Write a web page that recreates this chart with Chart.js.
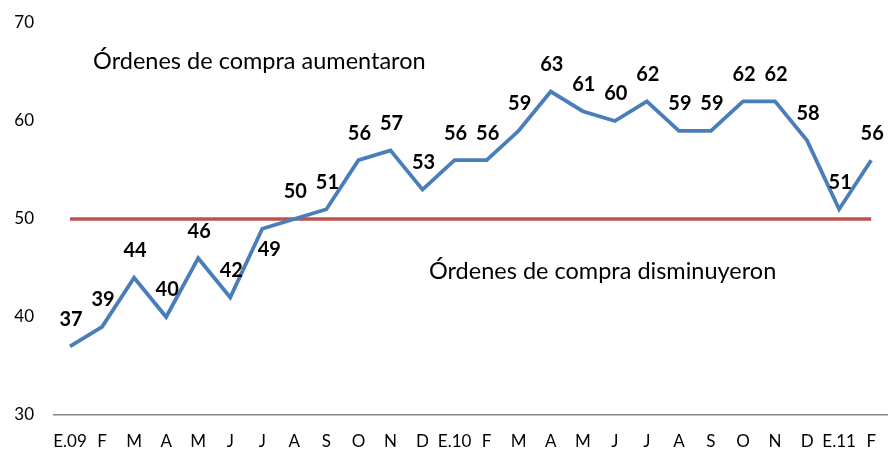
<!DOCTYPE html>
<html>
<head>
<meta charset="utf-8">
<script src="https://cdn.jsdelivr.net/npm/chart.js@4.4.0/dist/chart.umd.min.js"></script>
<style>
html,body{margin:0;padding:0;background:#fff;}
#wrap{width:892px;height:455px;}
</style>
</head>
<body>
<div id="wrap"><canvas id="c" width="892" height="455"></canvas></div>
<script>
const categories = ["E.09","F","M","A","M","J","J","A","S","O","N","D","E.10","F","M","A","M","J","J","A","S","O","N","D","E.11","F"];
const ordenes = [37,39,44,40,46,42,49,50,51,56,57,53,56,56,59,63,61,60,62,59,59,62,62,58,51,56];
const umbral = [50,50,50,50,50,50,50,50,50,50,50,50,50,50,50,50,50,50,50,50,50,50,50,50,50,50];
const yTicks = [30,40,50,60,70];
const notes = [
  {text:"Órdenes de compra aumentaron", x:0.72, y:66.1},
  {text:"Órdenes de compra disminuyeron", x:11.2, y:44.6}
];
const FONT = "Lato, 'Open Sans', sans-serif";

const labelPlugin = {
  id:'labels',
  afterDatasetsDraw(chart){
    const ctx = chart.ctx;
    const meta = chart.getDatasetMeta(1);
    ctx.save();
    ctx.fillStyle = '#000';
    ctx.font = "bold 20px " + FONT;
    ctx.textAlign = 'center';
    ctx.textBaseline = 'middle';
    meta.data.forEach((pt, i) => {
      const v = ordenes[i];
      let dx = 1, dy = -27;
      if (i === 6) { dx = 7; dy = 21; }
      ctx.fillText(String(v), pt.x + dx, pt.y + dy);
    });
    const xs = chart.scales.x, ys = chart.scales.y;
    ctx.font = "23.5px " + FONT;
    ctx.textAlign = 'left';
    notes.forEach(n => {
      ctx.fillText(n.text, xs.getPixelForValue(n.x), ys.getPixelForValue(n.y));
    });
    ctx.restore();
  }
};

new Chart(document.getElementById('c'), {
  type:'line',
  data:{
    labels:categories,
    datasets:[
      {data:umbral, borderColor:'#C0504D', borderWidth:3.5, pointRadius:0, tension:0, order:2},
      {data:ordenes, borderColor:'#4A7EBB', borderWidth:3.8, pointRadius:0, tension:0, order:1}
    ]
  },
  options:{
    responsive:false,
    animation:false,
    events:[],
    layout:{padding:{top:23,left:0,right:0,bottom:0}},
    plugins:{legend:{display:false}, tooltip:{enabled:false}},
    scales:{
      x:{
        offset:true,
        grid:{display:false, drawTicks:false},
        border:{display:true, color:'#868686', width:1.5},
        ticks:{color:'#000', font:{family:FONT, size:17}, padding:16, autoSkip:false, maxRotation:0},
        afterFit(s){ s.height = 40; }
      },
      y:{
        min:30, max:70,
        grid:{display:false, drawTicks:true, tickLength:20, tickColor:'rgba(0,0,0,0)'},
        border:{display:false},
        afterBuildTicks(s){ s.ticks = yTicks.map(v=>({value:v})); },
        ticks:{color:'#000', font:{family:FONT, size:17}, padding:0},
        afterFit(s){ s.width = 54; }
      }
    }
  },
  plugins:[labelPlugin]
});
</script>
</body>
</html>
